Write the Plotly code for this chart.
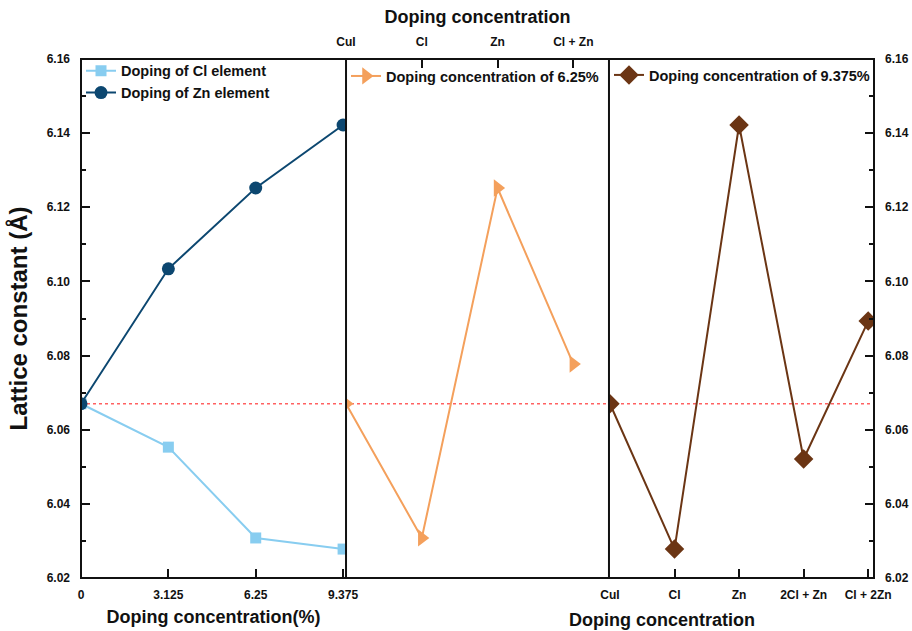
import plotly.graph_objects as go

# Lattice constant of CuI (undoped reference), in Å
cui_lattice = 6.067

# Panel 1: lattice constant versus doping concentration (%)
doping_pct = [0, 3.125, 6.25, 9.375]
doping_pct_labels = ["0", "3.125", "6.25", "9.375"]
cl_lattice = [6.067, 6.0553, 6.0308, 6.0278]
zn_lattice = [6.067, 6.1034, 6.1252, 6.1422]

# Panel 2: 6.25% doping, by dopant
dopants_625 = ["CuI", "Cl", "Zn", "Cl + Zn"]
lattice_625 = [6.067, 6.0308, 6.1252, 6.0777]

# Panel 3: 9.375% doping, by dopant
dopants_9375 = ["CuI", "Cl", "Zn", "2Cl + Zn", "Cl + 2Zn"]
lattice_9375 = [6.067, 6.0278, 6.1422, 6.0521, 6.0893]

y_ticks = [6.02, 6.04, 6.06, 6.08, 6.10, 6.12, 6.14, 6.16]

FONT = "Liberation Sans, Arial, sans-serif"
BLACK = "#111111"
C_CL = "#88CDF0"
C_ZN = "#0C4770"
C_625 = "#F4A05C"
C_9375 = "#6B3514"

# panel boundaries in paper fraction
d1, d2 = 0.3342, 0.6658

fig = go.Figure()

fig.add_trace(go.Scatter(
    x=doping_pct, y=cl_lattice, mode="lines+markers", name="Doping of Cl element",
    line=dict(color=C_CL, width=2), marker=dict(symbol="square", size=11, color=C_CL),
    xaxis="x", yaxis="y", legend="legend"))
fig.add_trace(go.Scatter(
    x=doping_pct, y=zn_lattice, mode="lines+markers", name="Doping of Zn element",
    line=dict(color=C_ZN, width=2), marker=dict(symbol="circle", size=13, color=C_ZN),
    xaxis="x", yaxis="y", legend="legend"))
fig.add_trace(go.Scatter(
    x=list(range(len(dopants_625))), y=lattice_625, mode="lines+markers",
    name="Doping concentration of 6.25%",
    line=dict(color=C_625, width=2), marker=dict(symbol="triangle-right", size=15, color=C_625),
    xaxis="x2", yaxis="y2", legend="legend2"))
fig.add_trace(go.Scatter(
    x=list(range(len(dopants_9375))), y=lattice_9375, mode="lines+markers",
    name="Doping concentration of 9.375%",
    line=dict(color=C_9375, width=2), marker=dict(symbol="diamond", size=15, color=C_9375),
    xaxis="x3", yaxis="y3", legend="legend3"))

tickfont = dict(family=FONT, size=12, color=BLACK)
titlefont = dict(family=FONT, size=18, color=BLACK)
yrange = [6.02, 6.16]

common_x = dict(showgrid=False, zeroline=False, showline=False, ticks="inside",
                ticklen=9, tickwidth=2, tickcolor=BLACK, tickfont=tickfont, automargin=False)
common_y = dict(range=yrange, showgrid=False, zeroline=False, showline=False, automargin=False)

legend_common = dict(bgcolor="rgba(0,0,0,0)", borderwidth=0, xanchor="left", yanchor="top",
                     font=dict(family=FONT, size=14.5, color=BLACK), itemwidth=30,
                     tracegroupgap=0)

fig.update_layout(
    width=912, height=631,
    margin=dict(l=81, r=38, t=59, b=53, autoexpand=False),
    paper_bgcolor="white", plot_bgcolor="white",
    font=dict(family=FONT, color=BLACK),
    xaxis=dict(domain=[0, d1], range=[0, 9.48], tickvals=doping_pct,
               ticktext=doping_pct_labels, anchor="y", ticklabelstandoff=8,
               title=dict(text="<b>Doping concentration(%)</b>", font=titlefont, standoff=9),
               **common_x),
    yaxis=dict(anchor="x", tickvals=y_ticks, ticks="inside", ticklen=9,
               tickwidth=2, tickcolor=BLACK, tickfont=tickfont, ticklabelstandoff=10,
               minor=dict(dtick=0.01, tick0=6.02, ticks="inside", ticklen=5, tickwidth=2,
                          tickcolor=BLACK),
               title=dict(text="<b>Lattice constant (Å)</b>",
                          font=dict(family=FONT, size=24, color=BLACK), standoff=12),
               **common_y),
    xaxis2=dict(domain=[d1, d2], range=[0, 3.47], tickvals=list(range(len(dopants_625))),
                ticktext=dopants_625, side="top", anchor="y2", ticklabelstandoff=10,
                title=dict(text="<b>Doping concentration</b>", font=titlefont, standoff=6),
                **common_x),
    yaxis2=dict(anchor="x2", showticklabels=False, ticks="", **common_y),
    xaxis3=dict(domain=[d2, 1], range=[-0.015, 4.09], tickvals=list(range(len(dopants_9375))),
                ticktext=dopants_9375, anchor="y3", ticklabelstandoff=8, **common_x),
    yaxis3=dict(anchor="x3", side="right", tickvals=y_ticks, ticks="inside",
                ticklen=9, tickwidth=2, tickcolor=BLACK, tickfont=tickfont, ticklabelstandoff=10,
                minor=dict(dtick=0.01, tick0=6.02, ticks="inside", ticklen=5, tickwidth=2,
                           tickcolor=BLACK),
                **common_y),
    legend=dict(x=0.0, y=1.008, **legend_common),
    legend2=dict(x=d1, y=0.998, **legend_common),
    legend3=dict(x=d2, y=1.0, **legend_common),
    showlegend=True,
)

# bold tick labels
for ax in ["xaxis", "xaxis2", "xaxis3"]:
    vals = fig.layout[ax].ticktext
    fig.layout[ax].ticktext = [f"<b>{t}</b>" for t in vals]
for ax in ["yaxis", "yaxis3"]:
    fig.layout[ax].ticktext = [f"<b>{v:.2f}</b>" for v in y_ticks]

# legend labels in bold
for tr in fig.data:
    tr.name = f"<b>{tr.name}</b>"

# title under the third panel
fig.add_annotation(text="<b>Doping concentration</b>", xref="paper", yref="paper",
                   x=0.853, y=0, yshift=-42, yanchor="middle", showarrow=False,
                   font=titlefont)

# CuI reference line across all panels
fig.add_shape(type="line", xref="paper", yref="y", x0=0, x1=1, y0=cui_lattice, y1=cui_lattice,
              line=dict(color="rgba(255,80,80,0.9)", width=1.5, dash="dot"), layer="below")

# frame and panel dividers
fig.add_shape(type="rect", xref="paper", yref="paper", x0=0, x1=1, y0=0, y1=1,
              line=dict(color=BLACK, width=2))
for xd in (d1, d2):
    fig.add_shape(type="line", xref="paper", yref="paper", x0=xd, x1=xd, y0=0, y1=1,
                  line=dict(color=BLACK, width=2))

fig.write_html("out.html")
